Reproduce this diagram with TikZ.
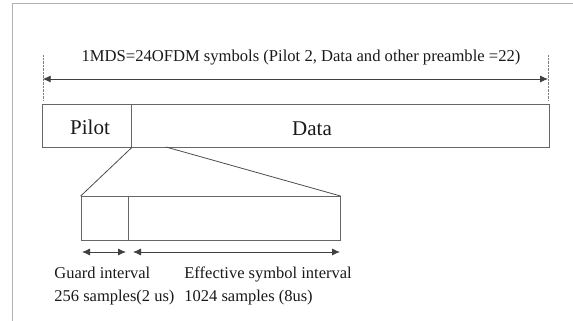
\documentclass[tikz,border=0pt]{standalone}
\usepackage{fontspec}
\setmainfont{Liberation Serif}
\usetikzlibrary{positioning,arrows.meta}

\begin{document}
\begin{tikzpicture}
    [x=1pt,y=-1pt,
     every node/.style={draw=black!60, thick, inner sep=0pt},
     lbl/.style={draw=none, text=black!90, inner sep=0pt},
     dim/.style={thick, draw=black!75, {Latex[length=8pt,width=7pt]}-{Latex[length=8pt,width=7pt]}}]
  \useasboundingbox (0,0) rectangle (573,321);
  \draw[black!30, line width=1.4pt] (12.5,321) -- (12.5,3.5) -- (573,3.5);

  % the MDS frame
  \node (pilot) at (86.75,125.5) [minimum width=89.5pt, minimum height=43pt] {};
  \node (data) at (340.25,125.5) [minimum width=417.5pt, minimum height=43pt] {};
  \node[lbl, font=\fontsize{21}{24}\selectfont] (pilotlbl) at (90,127) {Pilot};
  \node[lbl, font=\fontsize{21}{24}\selectfont] (datalbl) at (312,129) {Data};

  \coordinate (lt) at (42.7,55);
  \coordinate (lb) at (42.7,100);
  \coordinate (rt) at (548,55);
  \coordinate (rb) at (548,100);
  \draw[black!50, densely dotted] (lt) -- (lb);
  \draw[black!50, densely dotted] (rt) -- (rb);
  \coordinate (la) at (42.7,79);
  \coordinate (ra) at (548,79);
  \draw[dim] (la) -- (ra);
  \node[lbl, font=\fontsize{16.6}{19}\selectfont] (title) at (301,58) {1MDS=24OFDM symbols (Pilot 2, Data and other preamble =22)};

  % one OFDM symbol
  \node (guard) at (104.5,218.25) [minimum width=47pt, minimum height=43.5pt] {};
  \node (eff) at (234.25,218.25) [minimum width=212.5pt, minimum height=43.5pt] {};
  \coordinate (zs) at (166,147);
  \foreach \from/\to in {pilot.south east/guard.north west, zs/eff.north east}
    \draw[thick, black!70] (\from) -- (\to);

  \coordinate (ga) at (82,252);
  \coordinate (gb) at (126,252);
  \coordinate (ea) at (133,252);
  \coordinate (eb) at (340,252);
  \draw[dim] (ga) -- (gb);
  \draw[dim] (ea) -- (eb);

  \node[lbl, anchor=west, align=left, font=\fontsize{16.5}{23}\selectfont] (guardlbl) at (54,286) {Guard interval\\256 samples(2 us)};
  \node[lbl, anchor=west, align=left, font=\fontsize{16.5}{23}\selectfont] (efflbl) at (184,286) {Effective symbol interval\\1024 samples (8us)};
\end{tikzpicture}
\end{document}
